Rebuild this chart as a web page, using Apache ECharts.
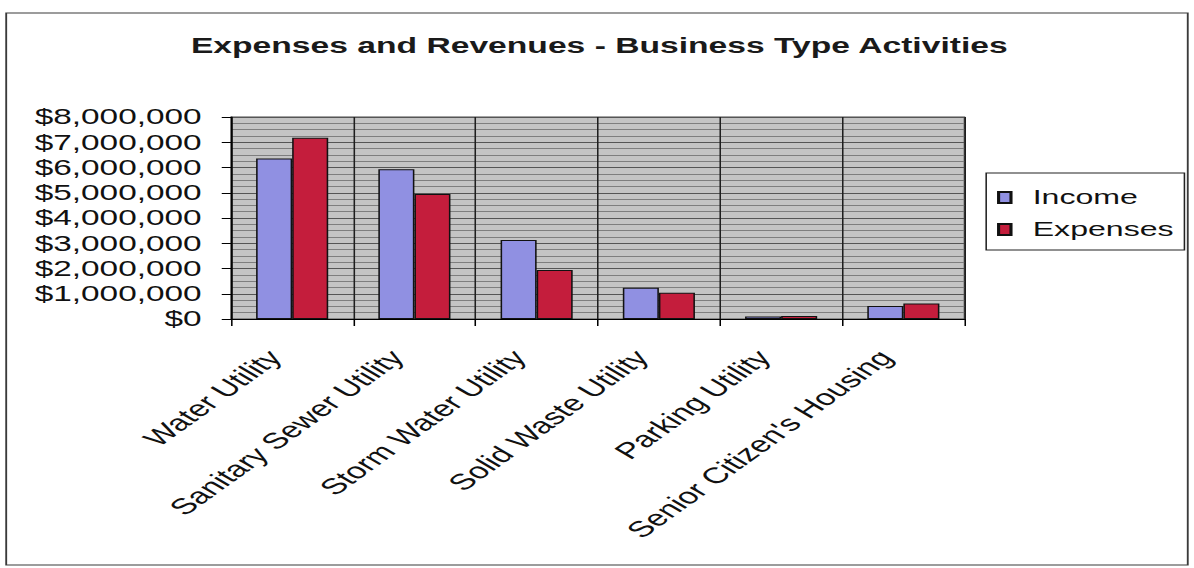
<!DOCTYPE html>
<html>
<head>
<meta charset="utf-8">
<title>Expenses and Revenues - Business Type Activities</title>
<script src="https://cdn.jsdelivr.net/npm/echarts@6/dist/echarts.min.js"></script>
<style>
  html, body { margin: 0; padding: 0; background: #ffffff; overflow: hidden; }
  #wrap { width: 1194px; height: 568px; overflow: hidden; }
  /* The chart is laid out on a narrower canvas and widened horizontally,
     which gives the wide, stretched lettering of the printed chart. */
  #chart { width: 770px; height: 568px; transform-origin: 0 0; transform: scaleX(1.5506); }
</style>
</head>
<body>
<div id="wrap"><div id="chart"></div></div>
<script>
// Business type activities shown along the x axis
const categories = [
  'Water Utility',
  'Sanitary Sewer Utility',
  'Storm Water Utility',
  'Solid Waste Utility',
  'Parking Utility',
  "Senior Citizen's Housing"
];

// Annual amounts in dollars
const income   = [6360000, 5930000, 3130000, 1240000, 100000, 510000];
const expenses = [7180000, 4950000, 1940000, 1040000, 120000, 610000];

// Value axis ticks and their labels
const yTicks = [0, 1000000, 2000000, 3000000, 4000000, 5000000, 6000000, 7000000, 8000000];
const yTickLabels = ['$0', '$1,000,000', '$2,000,000', '$3,000,000', '$4,000,000',
                     '$5,000,000', '$6,000,000', '$7,000,000', '$8,000,000'];

const FONT = "'Liberation Sans', Arial, Helvetica, sans-serif";

const chart = echarts.init(document.getElementById('chart'), null, { renderer: 'svg' });

chart.setOption({
  animation: false,
  backgroundColor: '#ffffff',
  title: {
    text: 'Expenses and Revenues - Business Type Activities',
    left: 381.5,
    textAlign: 'center',
    top: 29,
    textStyle: { fontFamily: FONT, fontSize: 21.7, fontWeight: 'bold', color: '#1a1a1a' }
  },
  graphic: [{
    type: 'rect',
    shape: { x: 4, y: 13, width: 762, height: 552 },
    style: { fill: 'none', stroke: '#3a3a3a', lineWidth: 1.2 },
    silent: true,
    z: -1
  }],
  legend: {
    orient: 'vertical',
    left: 636,
    top: 173,
    padding: [14, 7, 10, 7],
    itemGap: 11,
    itemWidth: 8,
    itemHeight: 11,
    borderColor: '#222',
    borderWidth: 1,
    icon: 'rect',
    textStyle: { fontFamily: FONT, fontSize: 20.7, color: '#111', padding: [0, 0, 0, 9] },
    data: ['Income', 'Expenses']
  },
  grid: {
    left: 149,
    right: 148,
    top: 117,
    bottom: 249,
    show: true,
    backgroundColor: '#c4c4c4',
    borderColor: '#4a4a4a',
    borderWidth: 1
  },
  xAxis: {
    type: 'category',
    data: categories,
    axisLine: { lineStyle: { color: '#000', width: 1 } },
    axisTick: { show: true, length: 7, lineStyle: { color: '#000' } },
    splitLine: { show: true, lineStyle: { color: '#1e1e1e', width: 1 } },
    axisLabel: {
      rotate: 48,
      margin: 22,
      interval: 0,
      padding: [0, 17, 0, 0],
      fontFamily: FONT,
      fontSize: 22.4,
      color: '#111'
    }
  },
  yAxis: {
    type: 'value',
    min: yTicks[0],
    max: yTicks[yTicks.length - 1],
    interval: yTicks[1] - yTicks[0],
    axisLine: { show: true, lineStyle: { color: '#000', width: 1 } },
    axisTick: { show: true, length: 6, lineStyle: { color: '#000' } },
    axisLabel: {
      margin: 19,
      fontFamily: FONT,
      fontSize: 21.5,
      color: '#111',
      formatter: function (v) {
        const i = yTicks.indexOf(v);
        return i >= 0 ? yTickLabels[i] : '';
      }
    },
    splitLine: { show: true, lineStyle: { color: '#555555', width: 1 } },
    minorTick: { show: false, splitNumber: 4 },
    minorSplitLine: { show: true, lineStyle: { color: '#7e7e7e', width: 1 } }
  },
  series: [
    {
      name: 'Income',
      type: 'bar',
      data: income,
      barGap: '0%',
      barCategoryGap: '41%',
      itemStyle: { color: '#9090e2', borderColor: '#111', borderWidth: 1 }
    },
    {
      name: 'Expenses',
      type: 'bar',
      data: expenses,
      barGap: '0%',
      barCategoryGap: '41%',
      itemStyle: { color: '#c41d3c', borderColor: '#111', borderWidth: 1 }
    }
  ]
});
</script>
</body>
</html>
